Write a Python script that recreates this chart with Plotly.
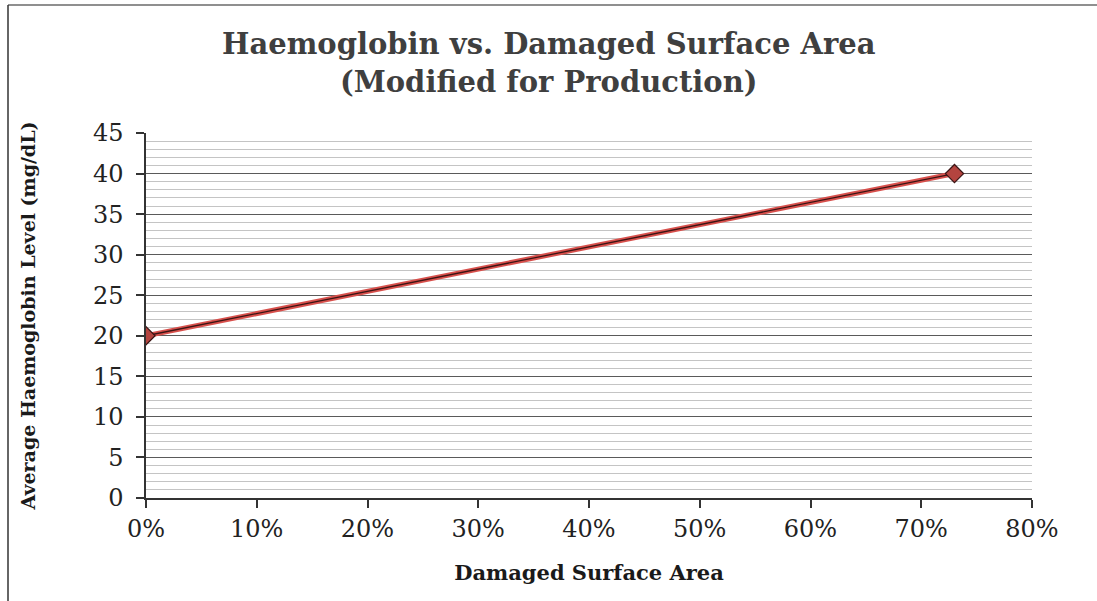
import plotly.graph_objects as go

# Chart data
damaged_area = [0.0, 0.73]          # fraction of surface area damaged
haemoglobin = [20, 40]              # average haemoglobin level (mg/dL)
x_ticks = [0, 0.1, 0.2, 0.3, 0.4, 0.5, 0.6, 0.7, 0.8]
x_tick_labels = ["0%", "10%", "20%", "30%", "40%", "50%", "60%", "70%", "80%"]
y_ticks = [0, 5, 10, 15, 20, 25, 30, 35, 40, 45]

serif = "DejaVu Serif, Liberation Serif, serif"

# plot area geometry in pixels (used to place the frame and title)
L, R, T, B = 146, 65, 133, 103
W, H = 1097, 601
PW, PH = W - L - R, H - T - B

fig = go.Figure()

# red halo around the series line
fig.add_trace(go.Scatter(
    x=damaged_area, y=haemoglobin, mode="lines",
    line=dict(color="#d8504c", width=5),
    hoverinfo="skip", showlegend=False,
))
# dark core line with diamond markers
fig.add_trace(go.Scatter(
    x=damaged_area, y=haemoglobin, mode="lines+markers",
    line=dict(color="#3a1414", width=1.3),
    marker=dict(symbol="diamond", size=14, color="#b4443f",
                line=dict(color="#3a1414", width=1.2)),
    showlegend=False,
))

fig.update_layout(
    width=W, height=H,
    margin=dict(l=L, r=R, t=T, b=B),
    paper_bgcolor="white", plot_bgcolor="white",
    font=dict(family=serif, color="#222222", size=19),
    xaxis=dict(
        range=[0, 0.8], tickvals=x_ticks, ticktext=x_tick_labels,
        showgrid=False, zeroline=False,
        showline=True, linecolor="#333333", linewidth=1.5,
        ticks="outside", ticklen=8, tickcolor="#333333", tickwidth=1.5,
        tickfont=dict(size=24, color="#222222"),
        title=dict(text="<b>Damaged Surface Area</b>", standoff=24,
                   font=dict(size=21, color="#1a1a1a")),
    ),
    yaxis=dict(
        range=[0, 45], tickvals=y_ticks,
        showgrid=True, gridcolor="#5a5a5a", gridwidth=1.3,
        zeroline=False,
        showline=True, linecolor="#333333", linewidth=1.5,
        ticks="outside", ticklen=8, tickcolor="#333333", tickwidth=1.5,
        ticklabelstandoff=8,
        tickfont=dict(size=24, color="#222222"),
        minor=dict(dtick=1, showgrid=True, gridcolor="#c4c4c4", gridwidth=1),
        title=dict(text="<b>Average Haemoglobin Level (mg/dL)</b>", standoff=52,
                   font=dict(size=19, color="#1a1a1a")),
    ),
)

# two-line chart title
fig.add_annotation(
    text="<b>Haemoglobin vs. Damaged Surface Area<br>(Modified for Production)</b>",
    xref="paper", yref="paper",
    x=(W / 2 - L) / PW, y=(H - B - 63) / PH,
    xanchor="center", yanchor="middle", showarrow=False,
    font=dict(family=serif, size=29, color="#3f3f3f"),
)

# chart frame: only left and top edges fall inside the page
fx = (8 - L) / PW
fy = (H - B - 5) / PH
fig.add_shape(type="line", xref="paper", yref="paper",
              x0=fx, x1=1.2, y0=fy, y1=fy,
              line=dict(color="#6a6a6a", width=1.5))
fig.add_shape(type="line", xref="paper", yref="paper",
              x0=fx, x1=fx, y0=fy, y1=-0.5,
              line=dict(color="#333333", width=1.5))

fig.write_html("out.html")
